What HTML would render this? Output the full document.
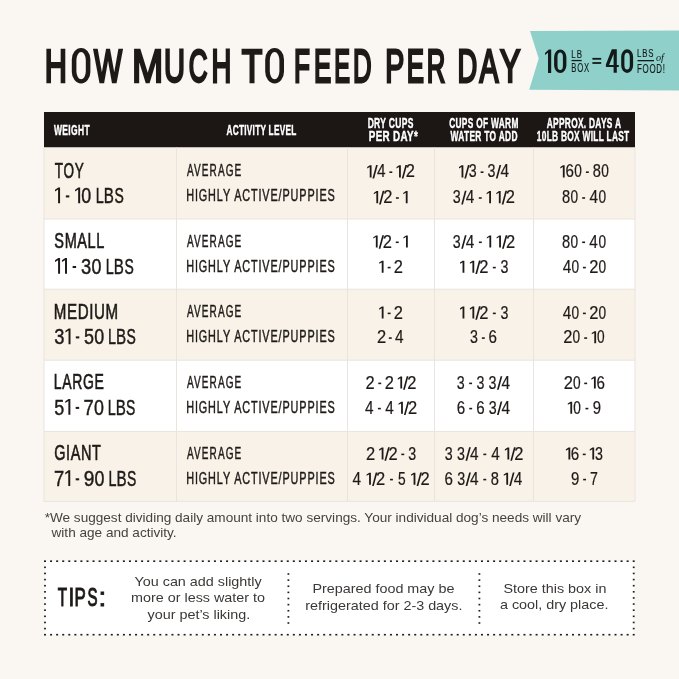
<!DOCTYPE html>
<html><head><meta charset="utf-8"><style>
html,body{margin:0;padding:0;background:#faf7f2;width:679px;height:679px;overflow:hidden}
svg{display:block;will-change:transform}
</style></head><body>
<svg width="679" height="679" viewBox="0 0 679 679">
<rect width="679" height="679" fill="#faf7f2"/>
<polygon points="530,31 679,30.6 679,90.4 529.2,89.8 538.7,58.4" fill="#8fd0cb"/>
<rect x="571.50" y="59.90" width="10.20" height="1.30" fill="#121a1a" />
<rect x="592.40" y="57.90" width="8.80" height="1.80" fill="#121a1a" />
<rect x="592.40" y="62.10" width="8.80" height="1.80" fill="#121a1a" />
<rect x="637.50" y="60.00" width="16.50" height="1.30" fill="#121a1a" />
<rect x="44.00" y="112.00" width="591.00" height="35.50" fill="#1c1615" />
<rect x="44.00" y="147.50" width="591.00" height="71.50" fill="#f8f2e8" />
<rect x="44.00" y="219.00" width="591.00" height="70.20" fill="#ffffff" />
<rect x="44.00" y="289.20" width="591.00" height="71.00" fill="#f8f2e8" />
<rect x="44.00" y="360.20" width="591.00" height="71.20" fill="#ffffff" />
<rect x="44.00" y="431.40" width="591.00" height="69.90" fill="#f8f2e8" />
<rect x="44.00" y="218.50" width="591.00" height="1.00" fill="#e9e4dd" />
<rect x="44.00" y="288.70" width="591.00" height="1.00" fill="#e9e4dd" />
<rect x="44.00" y="359.70" width="591.00" height="1.00" fill="#e9e4dd" />
<rect x="44.00" y="430.90" width="591.00" height="1.00" fill="#e9e4dd" />
<rect x="44.00" y="500.80" width="591.00" height="1.00" fill="#e9e4dd" />
<rect x="176.00" y="147.50" width="1.00" height="353.80" fill="#e9e4dd" />
<rect x="347.00" y="147.50" width="1.00" height="353.80" fill="#e9e4dd" />
<rect x="434.00" y="147.50" width="1.00" height="353.80" fill="#e9e4dd" />
<rect x="533.00" y="147.50" width="1.00" height="353.80" fill="#e9e4dd" />
<rect x="43.50" y="147.50" width="1.00" height="353.80" fill="#e9e4dd" />
<rect x="634.50" y="147.50" width="1.00" height="353.80" fill="#e9e4dd" />
<rect x="45.00" y="561.00" width="589.00" height="74.00" fill="#ffffff" />
<rect x="44.00" y="560.40" width="2.00" height="1.60" fill="#1f1c1a" />
<rect x="44.00" y="633.90" width="2.00" height="1.60" fill="#1f1c1a" />
<rect x="50.07" y="560.40" width="2.00" height="1.60" fill="#1f1c1a" />
<rect x="50.07" y="633.90" width="2.00" height="1.60" fill="#1f1c1a" />
<rect x="56.14" y="560.40" width="2.00" height="1.60" fill="#1f1c1a" />
<rect x="56.14" y="633.90" width="2.00" height="1.60" fill="#1f1c1a" />
<rect x="62.21" y="560.40" width="2.00" height="1.60" fill="#1f1c1a" />
<rect x="62.21" y="633.90" width="2.00" height="1.60" fill="#1f1c1a" />
<rect x="68.28" y="560.40" width="2.00" height="1.60" fill="#1f1c1a" />
<rect x="68.28" y="633.90" width="2.00" height="1.60" fill="#1f1c1a" />
<rect x="74.35" y="560.40" width="2.00" height="1.60" fill="#1f1c1a" />
<rect x="74.35" y="633.90" width="2.00" height="1.60" fill="#1f1c1a" />
<rect x="80.41" y="560.40" width="2.00" height="1.60" fill="#1f1c1a" />
<rect x="80.41" y="633.90" width="2.00" height="1.60" fill="#1f1c1a" />
<rect x="86.48" y="560.40" width="2.00" height="1.60" fill="#1f1c1a" />
<rect x="86.48" y="633.90" width="2.00" height="1.60" fill="#1f1c1a" />
<rect x="92.55" y="560.40" width="2.00" height="1.60" fill="#1f1c1a" />
<rect x="92.55" y="633.90" width="2.00" height="1.60" fill="#1f1c1a" />
<rect x="98.62" y="560.40" width="2.00" height="1.60" fill="#1f1c1a" />
<rect x="98.62" y="633.90" width="2.00" height="1.60" fill="#1f1c1a" />
<rect x="104.69" y="560.40" width="2.00" height="1.60" fill="#1f1c1a" />
<rect x="104.69" y="633.90" width="2.00" height="1.60" fill="#1f1c1a" />
<rect x="110.76" y="560.40" width="2.00" height="1.60" fill="#1f1c1a" />
<rect x="110.76" y="633.90" width="2.00" height="1.60" fill="#1f1c1a" />
<rect x="116.83" y="560.40" width="2.00" height="1.60" fill="#1f1c1a" />
<rect x="116.83" y="633.90" width="2.00" height="1.60" fill="#1f1c1a" />
<rect x="122.90" y="560.40" width="2.00" height="1.60" fill="#1f1c1a" />
<rect x="122.90" y="633.90" width="2.00" height="1.60" fill="#1f1c1a" />
<rect x="128.97" y="560.40" width="2.00" height="1.60" fill="#1f1c1a" />
<rect x="128.97" y="633.90" width="2.00" height="1.60" fill="#1f1c1a" />
<rect x="135.04" y="560.40" width="2.00" height="1.60" fill="#1f1c1a" />
<rect x="135.04" y="633.90" width="2.00" height="1.60" fill="#1f1c1a" />
<rect x="141.11" y="560.40" width="2.00" height="1.60" fill="#1f1c1a" />
<rect x="141.11" y="633.90" width="2.00" height="1.60" fill="#1f1c1a" />
<rect x="147.17" y="560.40" width="2.00" height="1.60" fill="#1f1c1a" />
<rect x="147.17" y="633.90" width="2.00" height="1.60" fill="#1f1c1a" />
<rect x="153.24" y="560.40" width="2.00" height="1.60" fill="#1f1c1a" />
<rect x="153.24" y="633.90" width="2.00" height="1.60" fill="#1f1c1a" />
<rect x="159.31" y="560.40" width="2.00" height="1.60" fill="#1f1c1a" />
<rect x="159.31" y="633.90" width="2.00" height="1.60" fill="#1f1c1a" />
<rect x="165.38" y="560.40" width="2.00" height="1.60" fill="#1f1c1a" />
<rect x="165.38" y="633.90" width="2.00" height="1.60" fill="#1f1c1a" />
<rect x="171.45" y="560.40" width="2.00" height="1.60" fill="#1f1c1a" />
<rect x="171.45" y="633.90" width="2.00" height="1.60" fill="#1f1c1a" />
<rect x="177.52" y="560.40" width="2.00" height="1.60" fill="#1f1c1a" />
<rect x="177.52" y="633.90" width="2.00" height="1.60" fill="#1f1c1a" />
<rect x="183.59" y="560.40" width="2.00" height="1.60" fill="#1f1c1a" />
<rect x="183.59" y="633.90" width="2.00" height="1.60" fill="#1f1c1a" />
<rect x="189.66" y="560.40" width="2.00" height="1.60" fill="#1f1c1a" />
<rect x="189.66" y="633.90" width="2.00" height="1.60" fill="#1f1c1a" />
<rect x="195.73" y="560.40" width="2.00" height="1.60" fill="#1f1c1a" />
<rect x="195.73" y="633.90" width="2.00" height="1.60" fill="#1f1c1a" />
<rect x="201.80" y="560.40" width="2.00" height="1.60" fill="#1f1c1a" />
<rect x="201.80" y="633.90" width="2.00" height="1.60" fill="#1f1c1a" />
<rect x="207.86" y="560.40" width="2.00" height="1.60" fill="#1f1c1a" />
<rect x="207.86" y="633.90" width="2.00" height="1.60" fill="#1f1c1a" />
<rect x="213.93" y="560.40" width="2.00" height="1.60" fill="#1f1c1a" />
<rect x="213.93" y="633.90" width="2.00" height="1.60" fill="#1f1c1a" />
<rect x="220.00" y="560.40" width="2.00" height="1.60" fill="#1f1c1a" />
<rect x="220.00" y="633.90" width="2.00" height="1.60" fill="#1f1c1a" />
<rect x="226.07" y="560.40" width="2.00" height="1.60" fill="#1f1c1a" />
<rect x="226.07" y="633.90" width="2.00" height="1.60" fill="#1f1c1a" />
<rect x="232.14" y="560.40" width="2.00" height="1.60" fill="#1f1c1a" />
<rect x="232.14" y="633.90" width="2.00" height="1.60" fill="#1f1c1a" />
<rect x="238.21" y="560.40" width="2.00" height="1.60" fill="#1f1c1a" />
<rect x="238.21" y="633.90" width="2.00" height="1.60" fill="#1f1c1a" />
<rect x="244.28" y="560.40" width="2.00" height="1.60" fill="#1f1c1a" />
<rect x="244.28" y="633.90" width="2.00" height="1.60" fill="#1f1c1a" />
<rect x="250.35" y="560.40" width="2.00" height="1.60" fill="#1f1c1a" />
<rect x="250.35" y="633.90" width="2.00" height="1.60" fill="#1f1c1a" />
<rect x="256.42" y="560.40" width="2.00" height="1.60" fill="#1f1c1a" />
<rect x="256.42" y="633.90" width="2.00" height="1.60" fill="#1f1c1a" />
<rect x="262.49" y="560.40" width="2.00" height="1.60" fill="#1f1c1a" />
<rect x="262.49" y="633.90" width="2.00" height="1.60" fill="#1f1c1a" />
<rect x="268.56" y="560.40" width="2.00" height="1.60" fill="#1f1c1a" />
<rect x="268.56" y="633.90" width="2.00" height="1.60" fill="#1f1c1a" />
<rect x="274.62" y="560.40" width="2.00" height="1.60" fill="#1f1c1a" />
<rect x="274.62" y="633.90" width="2.00" height="1.60" fill="#1f1c1a" />
<rect x="280.69" y="560.40" width="2.00" height="1.60" fill="#1f1c1a" />
<rect x="280.69" y="633.90" width="2.00" height="1.60" fill="#1f1c1a" />
<rect x="286.76" y="560.40" width="2.00" height="1.60" fill="#1f1c1a" />
<rect x="286.76" y="633.90" width="2.00" height="1.60" fill="#1f1c1a" />
<rect x="292.83" y="560.40" width="2.00" height="1.60" fill="#1f1c1a" />
<rect x="292.83" y="633.90" width="2.00" height="1.60" fill="#1f1c1a" />
<rect x="298.90" y="560.40" width="2.00" height="1.60" fill="#1f1c1a" />
<rect x="298.90" y="633.90" width="2.00" height="1.60" fill="#1f1c1a" />
<rect x="304.97" y="560.40" width="2.00" height="1.60" fill="#1f1c1a" />
<rect x="304.97" y="633.90" width="2.00" height="1.60" fill="#1f1c1a" />
<rect x="311.04" y="560.40" width="2.00" height="1.60" fill="#1f1c1a" />
<rect x="311.04" y="633.90" width="2.00" height="1.60" fill="#1f1c1a" />
<rect x="317.11" y="560.40" width="2.00" height="1.60" fill="#1f1c1a" />
<rect x="317.11" y="633.90" width="2.00" height="1.60" fill="#1f1c1a" />
<rect x="323.18" y="560.40" width="2.00" height="1.60" fill="#1f1c1a" />
<rect x="323.18" y="633.90" width="2.00" height="1.60" fill="#1f1c1a" />
<rect x="329.25" y="560.40" width="2.00" height="1.60" fill="#1f1c1a" />
<rect x="329.25" y="633.90" width="2.00" height="1.60" fill="#1f1c1a" />
<rect x="335.32" y="560.40" width="2.00" height="1.60" fill="#1f1c1a" />
<rect x="335.32" y="633.90" width="2.00" height="1.60" fill="#1f1c1a" />
<rect x="341.38" y="560.40" width="2.00" height="1.60" fill="#1f1c1a" />
<rect x="341.38" y="633.90" width="2.00" height="1.60" fill="#1f1c1a" />
<rect x="347.45" y="560.40" width="2.00" height="1.60" fill="#1f1c1a" />
<rect x="347.45" y="633.90" width="2.00" height="1.60" fill="#1f1c1a" />
<rect x="353.52" y="560.40" width="2.00" height="1.60" fill="#1f1c1a" />
<rect x="353.52" y="633.90" width="2.00" height="1.60" fill="#1f1c1a" />
<rect x="359.59" y="560.40" width="2.00" height="1.60" fill="#1f1c1a" />
<rect x="359.59" y="633.90" width="2.00" height="1.60" fill="#1f1c1a" />
<rect x="365.66" y="560.40" width="2.00" height="1.60" fill="#1f1c1a" />
<rect x="365.66" y="633.90" width="2.00" height="1.60" fill="#1f1c1a" />
<rect x="371.73" y="560.40" width="2.00" height="1.60" fill="#1f1c1a" />
<rect x="371.73" y="633.90" width="2.00" height="1.60" fill="#1f1c1a" />
<rect x="377.80" y="560.40" width="2.00" height="1.60" fill="#1f1c1a" />
<rect x="377.80" y="633.90" width="2.00" height="1.60" fill="#1f1c1a" />
<rect x="383.87" y="560.40" width="2.00" height="1.60" fill="#1f1c1a" />
<rect x="383.87" y="633.90" width="2.00" height="1.60" fill="#1f1c1a" />
<rect x="389.94" y="560.40" width="2.00" height="1.60" fill="#1f1c1a" />
<rect x="389.94" y="633.90" width="2.00" height="1.60" fill="#1f1c1a" />
<rect x="396.01" y="560.40" width="2.00" height="1.60" fill="#1f1c1a" />
<rect x="396.01" y="633.90" width="2.00" height="1.60" fill="#1f1c1a" />
<rect x="402.08" y="560.40" width="2.00" height="1.60" fill="#1f1c1a" />
<rect x="402.08" y="633.90" width="2.00" height="1.60" fill="#1f1c1a" />
<rect x="408.14" y="560.40" width="2.00" height="1.60" fill="#1f1c1a" />
<rect x="408.14" y="633.90" width="2.00" height="1.60" fill="#1f1c1a" />
<rect x="414.21" y="560.40" width="2.00" height="1.60" fill="#1f1c1a" />
<rect x="414.21" y="633.90" width="2.00" height="1.60" fill="#1f1c1a" />
<rect x="420.28" y="560.40" width="2.00" height="1.60" fill="#1f1c1a" />
<rect x="420.28" y="633.90" width="2.00" height="1.60" fill="#1f1c1a" />
<rect x="426.35" y="560.40" width="2.00" height="1.60" fill="#1f1c1a" />
<rect x="426.35" y="633.90" width="2.00" height="1.60" fill="#1f1c1a" />
<rect x="432.42" y="560.40" width="2.00" height="1.60" fill="#1f1c1a" />
<rect x="432.42" y="633.90" width="2.00" height="1.60" fill="#1f1c1a" />
<rect x="438.49" y="560.40" width="2.00" height="1.60" fill="#1f1c1a" />
<rect x="438.49" y="633.90" width="2.00" height="1.60" fill="#1f1c1a" />
<rect x="444.56" y="560.40" width="2.00" height="1.60" fill="#1f1c1a" />
<rect x="444.56" y="633.90" width="2.00" height="1.60" fill="#1f1c1a" />
<rect x="450.63" y="560.40" width="2.00" height="1.60" fill="#1f1c1a" />
<rect x="450.63" y="633.90" width="2.00" height="1.60" fill="#1f1c1a" />
<rect x="456.70" y="560.40" width="2.00" height="1.60" fill="#1f1c1a" />
<rect x="456.70" y="633.90" width="2.00" height="1.60" fill="#1f1c1a" />
<rect x="462.77" y="560.40" width="2.00" height="1.60" fill="#1f1c1a" />
<rect x="462.77" y="633.90" width="2.00" height="1.60" fill="#1f1c1a" />
<rect x="468.84" y="560.40" width="2.00" height="1.60" fill="#1f1c1a" />
<rect x="468.84" y="633.90" width="2.00" height="1.60" fill="#1f1c1a" />
<rect x="474.90" y="560.40" width="2.00" height="1.60" fill="#1f1c1a" />
<rect x="474.90" y="633.90" width="2.00" height="1.60" fill="#1f1c1a" />
<rect x="480.97" y="560.40" width="2.00" height="1.60" fill="#1f1c1a" />
<rect x="480.97" y="633.90" width="2.00" height="1.60" fill="#1f1c1a" />
<rect x="487.04" y="560.40" width="2.00" height="1.60" fill="#1f1c1a" />
<rect x="487.04" y="633.90" width="2.00" height="1.60" fill="#1f1c1a" />
<rect x="493.11" y="560.40" width="2.00" height="1.60" fill="#1f1c1a" />
<rect x="493.11" y="633.90" width="2.00" height="1.60" fill="#1f1c1a" />
<rect x="499.18" y="560.40" width="2.00" height="1.60" fill="#1f1c1a" />
<rect x="499.18" y="633.90" width="2.00" height="1.60" fill="#1f1c1a" />
<rect x="505.25" y="560.40" width="2.00" height="1.60" fill="#1f1c1a" />
<rect x="505.25" y="633.90" width="2.00" height="1.60" fill="#1f1c1a" />
<rect x="511.32" y="560.40" width="2.00" height="1.60" fill="#1f1c1a" />
<rect x="511.32" y="633.90" width="2.00" height="1.60" fill="#1f1c1a" />
<rect x="517.39" y="560.40" width="2.00" height="1.60" fill="#1f1c1a" />
<rect x="517.39" y="633.90" width="2.00" height="1.60" fill="#1f1c1a" />
<rect x="523.46" y="560.40" width="2.00" height="1.60" fill="#1f1c1a" />
<rect x="523.46" y="633.90" width="2.00" height="1.60" fill="#1f1c1a" />
<rect x="529.53" y="560.40" width="2.00" height="1.60" fill="#1f1c1a" />
<rect x="529.53" y="633.90" width="2.00" height="1.60" fill="#1f1c1a" />
<rect x="535.59" y="560.40" width="2.00" height="1.60" fill="#1f1c1a" />
<rect x="535.59" y="633.90" width="2.00" height="1.60" fill="#1f1c1a" />
<rect x="541.66" y="560.40" width="2.00" height="1.60" fill="#1f1c1a" />
<rect x="541.66" y="633.90" width="2.00" height="1.60" fill="#1f1c1a" />
<rect x="547.73" y="560.40" width="2.00" height="1.60" fill="#1f1c1a" />
<rect x="547.73" y="633.90" width="2.00" height="1.60" fill="#1f1c1a" />
<rect x="553.80" y="560.40" width="2.00" height="1.60" fill="#1f1c1a" />
<rect x="553.80" y="633.90" width="2.00" height="1.60" fill="#1f1c1a" />
<rect x="559.87" y="560.40" width="2.00" height="1.60" fill="#1f1c1a" />
<rect x="559.87" y="633.90" width="2.00" height="1.60" fill="#1f1c1a" />
<rect x="565.94" y="560.40" width="2.00" height="1.60" fill="#1f1c1a" />
<rect x="565.94" y="633.90" width="2.00" height="1.60" fill="#1f1c1a" />
<rect x="572.01" y="560.40" width="2.00" height="1.60" fill="#1f1c1a" />
<rect x="572.01" y="633.90" width="2.00" height="1.60" fill="#1f1c1a" />
<rect x="578.08" y="560.40" width="2.00" height="1.60" fill="#1f1c1a" />
<rect x="578.08" y="633.90" width="2.00" height="1.60" fill="#1f1c1a" />
<rect x="584.15" y="560.40" width="2.00" height="1.60" fill="#1f1c1a" />
<rect x="584.15" y="633.90" width="2.00" height="1.60" fill="#1f1c1a" />
<rect x="590.22" y="560.40" width="2.00" height="1.60" fill="#1f1c1a" />
<rect x="590.22" y="633.90" width="2.00" height="1.60" fill="#1f1c1a" />
<rect x="596.29" y="560.40" width="2.00" height="1.60" fill="#1f1c1a" />
<rect x="596.29" y="633.90" width="2.00" height="1.60" fill="#1f1c1a" />
<rect x="602.35" y="560.40" width="2.00" height="1.60" fill="#1f1c1a" />
<rect x="602.35" y="633.90" width="2.00" height="1.60" fill="#1f1c1a" />
<rect x="608.42" y="560.40" width="2.00" height="1.60" fill="#1f1c1a" />
<rect x="608.42" y="633.90" width="2.00" height="1.60" fill="#1f1c1a" />
<rect x="614.49" y="560.40" width="2.00" height="1.60" fill="#1f1c1a" />
<rect x="614.49" y="633.90" width="2.00" height="1.60" fill="#1f1c1a" />
<rect x="620.56" y="560.40" width="2.00" height="1.60" fill="#1f1c1a" />
<rect x="620.56" y="633.90" width="2.00" height="1.60" fill="#1f1c1a" />
<rect x="626.63" y="560.40" width="2.00" height="1.60" fill="#1f1c1a" />
<rect x="626.63" y="633.90" width="2.00" height="1.60" fill="#1f1c1a" />
<rect x="632.70" y="560.40" width="2.00" height="1.60" fill="#1f1c1a" />
<rect x="632.70" y="633.90" width="2.00" height="1.60" fill="#1f1c1a" />
<rect x="44.10" y="566.53" width="1.80" height="1.60" fill="#1f1c1a" />
<rect x="632.80" y="566.53" width="1.80" height="1.60" fill="#1f1c1a" />
<rect x="44.10" y="572.65" width="1.80" height="1.60" fill="#1f1c1a" />
<rect x="632.80" y="572.65" width="1.80" height="1.60" fill="#1f1c1a" />
<rect x="44.10" y="578.78" width="1.80" height="1.60" fill="#1f1c1a" />
<rect x="632.80" y="578.78" width="1.80" height="1.60" fill="#1f1c1a" />
<rect x="44.10" y="584.90" width="1.80" height="1.60" fill="#1f1c1a" />
<rect x="632.80" y="584.90" width="1.80" height="1.60" fill="#1f1c1a" />
<rect x="44.10" y="591.03" width="1.80" height="1.60" fill="#1f1c1a" />
<rect x="632.80" y="591.03" width="1.80" height="1.60" fill="#1f1c1a" />
<rect x="44.10" y="597.15" width="1.80" height="1.60" fill="#1f1c1a" />
<rect x="632.80" y="597.15" width="1.80" height="1.60" fill="#1f1c1a" />
<rect x="44.10" y="603.28" width="1.80" height="1.60" fill="#1f1c1a" />
<rect x="632.80" y="603.28" width="1.80" height="1.60" fill="#1f1c1a" />
<rect x="44.10" y="609.40" width="1.80" height="1.60" fill="#1f1c1a" />
<rect x="632.80" y="609.40" width="1.80" height="1.60" fill="#1f1c1a" />
<rect x="44.10" y="615.53" width="1.80" height="1.60" fill="#1f1c1a" />
<rect x="632.80" y="615.53" width="1.80" height="1.60" fill="#1f1c1a" />
<rect x="44.10" y="621.65" width="1.80" height="1.60" fill="#1f1c1a" />
<rect x="632.80" y="621.65" width="1.80" height="1.60" fill="#1f1c1a" />
<rect x="44.10" y="627.78" width="1.80" height="1.60" fill="#1f1c1a" />
<rect x="632.80" y="627.78" width="1.80" height="1.60" fill="#1f1c1a" />
<rect x="287.50" y="573.20" width="1.80" height="1.60" fill="#1f1c1a" />
<rect x="287.50" y="579.33" width="1.80" height="1.60" fill="#1f1c1a" />
<rect x="287.50" y="585.45" width="1.80" height="1.60" fill="#1f1c1a" />
<rect x="287.50" y="591.58" width="1.80" height="1.60" fill="#1f1c1a" />
<rect x="287.50" y="597.70" width="1.80" height="1.60" fill="#1f1c1a" />
<rect x="287.50" y="603.83" width="1.80" height="1.60" fill="#1f1c1a" />
<rect x="287.50" y="609.95" width="1.80" height="1.60" fill="#1f1c1a" />
<rect x="287.50" y="616.08" width="1.80" height="1.60" fill="#1f1c1a" />
<rect x="287.50" y="622.20" width="1.80" height="1.60" fill="#1f1c1a" />
<rect x="478.50" y="573.20" width="1.80" height="1.60" fill="#1f1c1a" />
<rect x="478.50" y="579.33" width="1.80" height="1.60" fill="#1f1c1a" />
<rect x="478.50" y="585.45" width="1.80" height="1.60" fill="#1f1c1a" />
<rect x="478.50" y="591.58" width="1.80" height="1.60" fill="#1f1c1a" />
<rect x="478.50" y="597.70" width="1.80" height="1.60" fill="#1f1c1a" />
<rect x="478.50" y="603.83" width="1.80" height="1.60" fill="#1f1c1a" />
<rect x="478.50" y="609.95" width="1.80" height="1.60" fill="#1f1c1a" />
<rect x="478.50" y="616.08" width="1.80" height="1.60" fill="#1f1c1a" />
<rect x="478.50" y="622.20" width="1.80" height="1.60" fill="#1f1c1a" />
<path d="M545,53.1 L548.8,49.6 L551.2,49.6 L551.2,72.9 L548,72.9 L548,52.8 L545,54.9 Z M560.25,49.60 A6.15,7.63 0 0 1 566.40,57.23 L566.40,65.27 A6.15,7.63 0 0 1 560.25,72.90 A6.15,7.63 0 0 1 554.10,65.27 L554.10,57.23 A6.15,7.63 0 0 1 560.25,49.60 Z M560.20,52.40 A2.70,4.59 0 0 0 557.50,56.99 L557.50,65.51 A2.70,4.59 0 0 0 560.20,70.10 A2.70,4.59 0 0 0 562.90,65.51 L562.90,56.99 A2.70,4.59 0 0 0 560.20,52.40 Z" fill="#121a1a" fill-rule="evenodd"/>
<path d="M611.8,49.3 L616.8,49.3 L616.8,64.9 L618.8,64.9 L618.8,67.1 L616.8,67.1 L616.8,72.8 L613.6,72.8 L613.6,67.1 L605.9,67.1 L605.9,64.5 Z M609.1,64.9 L613.6,64.9 L613.6,54.0 Z M627.15,49.30 A5.95,7.38 0 0 1 633.10,56.68 L633.10,65.52 A5.95,7.38 0 0 1 627.15,72.90 A5.95,7.38 0 0 1 621.20,65.52 L621.20,56.68 A5.95,7.38 0 0 1 627.15,49.30 Z M627.10,52.70 A2.70,4.59 0 0 0 624.40,57.29 L624.40,64.91 A2.70,4.59 0 0 0 627.10,69.50 A2.70,4.59 0 0 0 629.80,64.91 L629.80,57.29 A2.70,4.59 0 0 0 627.10,52.70 Z" fill="#121a1a" fill-rule="evenodd"/>
<path d="M81.10,47.90 A9.30,11.53 0 0 1 90.40,59.43 L90.40,71.97 A9.30,11.53 0 0 1 81.10,83.50 A9.30,11.53 0 0 1 71.80,71.97 L71.80,59.43 A9.30,11.53 0 0 1 81.10,47.90 Z M81.10,52.10 A4.70,7.99 0 0 0 76.40,60.09 L76.40,71.31 A4.70,7.99 0 0 0 81.10,79.30 A4.70,7.99 0 0 0 85.80,71.31 L85.80,60.09 A4.70,7.99 0 0 0 81.10,52.10 Z" fill="#1e1a18" fill-rule="evenodd"/>
<path d="M274.60,47.90 A9.40,11.66 0 0 1 284.00,59.56 L284.00,71.84 A9.40,11.66 0 0 1 274.60,83.50 A9.40,11.66 0 0 1 265.20,71.84 L265.20,59.56 A9.40,11.66 0 0 1 274.60,47.90 Z M274.60,52.10 A4.80,8.16 0 0 0 269.80,60.26 L269.80,71.14 A4.80,8.16 0 0 0 274.60,79.30 A4.80,8.16 0 0 0 279.40,71.14 L279.40,60.26 A4.80,8.16 0 0 0 274.60,52.10 Z" fill="#1e1a18" fill-rule="evenodd"/>
<text vector-effect="non-scaling-stroke" transform="matrix(0.6574 0 0 1 44.82 81.75)" font-family="Liberation Sans" font-weight="normal" font-size="46.66" fill="#1e1a18" stroke="#1e1a18" stroke-width="2.30">H</text>
<text vector-effect="non-scaling-stroke" transform="matrix(0.6373 0 0 1 94.00 81.75)" font-family="Liberation Sans" font-weight="normal" font-size="46.66" fill="#1e1a18" stroke="#1e1a18" stroke-width="2.30">W</text>
<text vector-effect="non-scaling-stroke" transform="matrix(0.8027 0 0 1 132.06 81.75)" font-family="Liberation Sans" font-weight="normal" font-size="46.66" fill="#1e1a18" stroke="#1e1a18" stroke-width="2.30">M</text>
<text vector-effect="non-scaling-stroke" transform="matrix(0.6232 0 0 1 163.90 81.75)" font-family="Liberation Sans" font-weight="normal" font-size="46.66" fill="#1e1a18" stroke="#1e1a18" stroke-width="2.30">U</text>
<text vector-effect="non-scaling-stroke" transform="matrix(0.5569 0 0 1 188.65 81.75)" font-family="Liberation Sans" font-weight="normal" font-size="46.66" fill="#1e1a18" stroke="#1e1a18" stroke-width="2.30">C</text>
<text vector-effect="non-scaling-stroke" transform="matrix(0.5882 0 0 1 211.49 81.75)" font-family="Liberation Sans" font-weight="normal" font-size="46.66" fill="#1e1a18" stroke="#1e1a18" stroke-width="2.30">H</text>
<text vector-effect="non-scaling-stroke" transform="matrix(0.7208 0 0 1 241.79 81.75)" font-family="Liberation Sans" font-weight="normal" font-size="46.66" fill="#1e1a18" stroke="#1e1a18" stroke-width="2.30">T</text>
<text vector-effect="non-scaling-stroke" transform="matrix(0.5584 0 0 1 294.00 81.75)" font-family="Liberation Sans" font-weight="normal" font-size="46.66" fill="#1e1a18" stroke="#1e1a18" stroke-width="2.30">F</text>
<text vector-effect="non-scaling-stroke" transform="matrix(0.5531 0 0 1 314.02 81.75)" font-family="Liberation Sans" font-weight="normal" font-size="46.66" fill="#1e1a18" stroke="#1e1a18" stroke-width="2.30">E</text>
<text vector-effect="non-scaling-stroke" transform="matrix(0.5057 0 0 1 334.20 81.75)" font-family="Liberation Sans" font-weight="normal" font-size="46.66" fill="#1e1a18" stroke="#1e1a18" stroke-width="2.30">E</text>
<text vector-effect="non-scaling-stroke" transform="matrix(0.5498 0 0 1 352.93 81.75)" font-family="Liberation Sans" font-weight="normal" font-size="46.66" fill="#1e1a18" stroke="#1e1a18" stroke-width="2.30">D</text>
<text vector-effect="non-scaling-stroke" transform="matrix(0.6118 0 0 1 385.20 81.75)" font-family="Liberation Sans" font-weight="normal" font-size="46.66" fill="#1e1a18" stroke="#1e1a18" stroke-width="2.30">P</text>
<text vector-effect="non-scaling-stroke" transform="matrix(0.5531 0 0 1 406.72 81.75)" font-family="Liberation Sans" font-weight="normal" font-size="46.66" fill="#1e1a18" stroke="#1e1a18" stroke-width="2.30">E</text>
<text vector-effect="non-scaling-stroke" transform="matrix(0.5498 0 0 1 426.73 81.75)" font-family="Liberation Sans" font-weight="normal" font-size="46.66" fill="#1e1a18" stroke="#1e1a18" stroke-width="2.30">R</text>
<text vector-effect="non-scaling-stroke" transform="matrix(0.5860 0 0 1 457.49 81.75)" font-family="Liberation Sans" font-weight="normal" font-size="46.66" fill="#1e1a18" stroke="#1e1a18" stroke-width="2.30">D</text>
<text vector-effect="non-scaling-stroke" transform="matrix(0.6114 0 0 1 479.48 81.75)" font-family="Liberation Sans" font-weight="normal" font-size="46.66" fill="#1e1a18" stroke="#1e1a18" stroke-width="2.30">A</text>
<text vector-effect="non-scaling-stroke" transform="matrix(0.6542 0 0 1 500.06 81.75)" font-family="Liberation Sans" font-weight="normal" font-size="46.66" fill="#1e1a18" stroke="#1e1a18" stroke-width="2.30">Y</text>
<text vector-effect="non-scaling-stroke" transform="matrix(0.7618 0 0 1 571.35 57.70)" font-family="Liberation Sans" font-weight="normal" font-style="normal" font-size="10.32" letter-spacing="1.247" fill="#121a1a" stroke="#121a1a" stroke-width="0.12">LB</text>
<text vector-effect="non-scaling-stroke" transform="matrix(0.6392 0 0 1 571.16 72.20)" font-family="Liberation Sans" font-weight="normal" font-style="normal" font-size="12.06" letter-spacing="1.345" fill="#121a1a" stroke="#121a1a" stroke-width="0.12">BOX</text>
<text vector-effect="non-scaling-stroke" transform="matrix(0.7264 0 0 1 637.06 57.40)" font-family="Liberation Sans" font-weight="normal" font-style="normal" font-size="10.76" letter-spacing="1.053" fill="#121a1a" stroke="#121a1a" stroke-width="0.12">LBS</text>
<text vector-effect="non-scaling-stroke" transform="matrix(1.0740 0 0 1 655.89 61.00)" font-family="Liberation Serif" font-weight="normal" font-style="italic" font-size="9.50" fill="#121a1a" >of</text>
<text vector-effect="non-scaling-stroke" transform="matrix(0.6021 0 0 1 637.04 72.70)" font-family="Liberation Sans" font-weight="normal" font-style="normal" font-size="13.23" letter-spacing="1.100" fill="#121a1a" stroke="#121a1a" stroke-width="0.12">FOOD!</text>
<text vector-effect="non-scaling-stroke" transform="matrix(0.6075 0 0 1 54.00 135.00)" font-family="Liberation Sans" font-weight="bold" font-style="normal" font-size="13.95" letter-spacing="0.586" fill="#ffffff" stroke="#ffffff" stroke-width="0.35">WEIGHT</text>
<text vector-effect="non-scaling-stroke" transform="matrix(0.5919 0 0 1 226.49 134.90)" font-family="Liberation Sans" font-weight="bold" font-style="normal" font-size="13.95" letter-spacing="0.451" fill="#ffffff" stroke="#ffffff" stroke-width="0.35">ACTIVITY LEVEL</text>
<text vector-effect="non-scaling-stroke" transform="matrix(0.6094 0 0 1 367.63 127.90)" font-family="Liberation Sans" font-weight="bold" font-style="normal" font-size="13.95" letter-spacing="0.525" fill="#ffffff" stroke="#ffffff" stroke-width="0.35">DRY CUPS</text>
<text vector-effect="non-scaling-stroke" transform="matrix(0.7052 0 0 1 368.74 141.20)" font-family="Liberation Sans" font-weight="bold" font-style="normal" font-size="13.95" letter-spacing="0.490" fill="#ffffff" stroke="#ffffff" stroke-width="0.35">PER DAY*</text>
<text vector-effect="non-scaling-stroke" transform="matrix(0.5984 0 0 1 449.17 128.10)" font-family="Liberation Sans" font-weight="bold" font-style="normal" font-size="13.95" letter-spacing="0.520" fill="#ffffff" stroke="#ffffff" stroke-width="0.35">CUPS OF WARM</text>
<text vector-effect="non-scaling-stroke" transform="matrix(0.5997 0 0 1 450.60 141.20)" font-family="Liberation Sans" font-weight="bold" font-style="normal" font-size="13.95" letter-spacing="0.504" fill="#ffffff" stroke="#ffffff" stroke-width="0.35">WATER TO ADD</text>
<text vector-effect="non-scaling-stroke" transform="matrix(0.5999 0 0 1 546.79 127.90)" font-family="Liberation Sans" font-weight="bold" font-style="normal" font-size="13.95" letter-spacing="0.473" fill="#ffffff" stroke="#ffffff" stroke-width="0.35">APPROX. DAYS A</text>
<text vector-effect="non-scaling-stroke" transform="matrix(0.6010 0 0 1 536.78 141.20)" font-family="Liberation Sans" font-weight="bold" font-style="normal" font-size="13.95" letter-spacing="0.450" fill="#ffffff" stroke="#ffffff" stroke-width="0.35">10LB BOX WILL LAST</text>
<text vector-effect="non-scaling-stroke" transform="matrix(0.6010 0 0 1 54.70 177.70)" font-family="Liberation Sans" font-weight="normal" font-style="normal" font-size="22.53" letter-spacing="1.181" fill="#1e1a18" stroke="#1e1a18" stroke-width="0.55">TOY</text>
<path d="M55.00,189.77 L58.28,187.40 L60.06,187.40 L60.06,203.20 L58.08,203.20 L58.08,189.61 L55.00,191.51 Z" fill="#1e1a18"/>
<rect x="65.84" y="195.38" width="3.48" height="2.05" fill="#1e1a18"/>
<path d="M75.09,189.77 L78.37,187.40 L80.15,187.40 L80.15,203.20 L78.17,203.20 L78.17,189.61 L75.09,191.51 Z" fill="#1e1a18"/>
<text vector-effect="non-scaling-stroke" transform="matrix(0.7781 0 0 1 81.36 203.20)" font-family="Liberation Sans" font-size="22.97" fill="#1e1a18" stroke="#1e1a18" stroke-width="0.42">0</text>
<text vector-effect="non-scaling-stroke" transform="matrix(0.6255 0 0 1 95.63 203.20)" font-family="Liberation Sans" font-size="22.97" fill="#1e1a18" stroke="#1e1a18" stroke-width="0.42">L</text>
<text vector-effect="non-scaling-stroke" transform="matrix(0.6589 0 0 1 103.81 203.20)" font-family="Liberation Sans" font-size="22.97" fill="#1e1a18" stroke="#1e1a18" stroke-width="0.42">B</text>
<text vector-effect="non-scaling-stroke" transform="matrix(0.6076 0 0 1 114.41 203.20)" font-family="Liberation Sans" font-size="22.97" fill="#1e1a18" stroke="#1e1a18" stroke-width="0.42">S</text>
<text vector-effect="non-scaling-stroke" transform="matrix(0.6444 0 0 1 54.35 248.30)" font-family="Liberation Sans" font-weight="normal" font-style="normal" font-size="22.53" letter-spacing="0.949" fill="#1e1a18" stroke="#1e1a18" stroke-width="0.55">SMALL</text>
<path d="M55.00,260.37 L58.28,258.00 L60.06,258.00 L60.06,273.80 L58.08,273.80 L58.08,260.21 L55.00,262.11 Z" fill="#1e1a18"/>
<path d="M61.94,260.37 L65.21,258.00 L66.99,258.00 L66.99,273.80 L65.02,273.80 L65.02,260.21 L61.94,262.11 Z" fill="#1e1a18"/>
<rect x="72.63" y="265.98" width="3.48" height="2.05" fill="#1e1a18"/>
<text vector-effect="non-scaling-stroke" transform="matrix(0.7966 0 0 1 81.06 273.80)" font-family="Liberation Sans" font-size="22.97" fill="#1e1a18" stroke="#1e1a18" stroke-width="0.42">3</text>
<text vector-effect="non-scaling-stroke" transform="matrix(0.7781 0 0 1 91.61 273.80)" font-family="Liberation Sans" font-size="22.97" fill="#1e1a18" stroke="#1e1a18" stroke-width="0.42">0</text>
<text vector-effect="non-scaling-stroke" transform="matrix(0.6255 0 0 1 105.72 273.80)" font-family="Liberation Sans" font-size="22.97" fill="#1e1a18" stroke="#1e1a18" stroke-width="0.42">L</text>
<text vector-effect="non-scaling-stroke" transform="matrix(0.6589 0 0 1 113.86 273.80)" font-family="Liberation Sans" font-size="22.97" fill="#1e1a18" stroke="#1e1a18" stroke-width="0.42">B</text>
<text vector-effect="non-scaling-stroke" transform="matrix(0.6076 0 0 1 124.41 273.80)" font-family="Liberation Sans" font-size="22.97" fill="#1e1a18" stroke="#1e1a18" stroke-width="0.42">S</text>
<text vector-effect="non-scaling-stroke" transform="matrix(0.6710 0 0 1 53.75 318.90)" font-family="Liberation Sans" font-weight="normal" font-style="normal" font-size="22.53" letter-spacing="0.923" fill="#1e1a18" stroke="#1e1a18" stroke-width="0.55">MEDIUM</text>
<text vector-effect="non-scaling-stroke" transform="matrix(0.7966 0 0 1 54.31 344.20)" font-family="Liberation Sans" font-size="22.97" fill="#1e1a18" stroke="#1e1a18" stroke-width="0.42">3</text>
<path d="M65.46,330.77 L68.74,328.40 L70.51,328.40 L70.51,344.20 L68.54,344.20 L68.54,330.61 L65.46,332.51 Z" fill="#1e1a18"/>
<rect x="75.82" y="336.38" width="3.48" height="2.05" fill="#1e1a18"/>
<text vector-effect="non-scaling-stroke" transform="matrix(0.7821 0 0 1 83.88 344.20)" font-family="Liberation Sans" font-size="22.97" fill="#1e1a18" stroke="#1e1a18" stroke-width="0.42">5</text>
<text vector-effect="non-scaling-stroke" transform="matrix(0.7781 0 0 1 94.19 344.20)" font-family="Liberation Sans" font-size="22.97" fill="#1e1a18" stroke="#1e1a18" stroke-width="0.42">0</text>
<text vector-effect="non-scaling-stroke" transform="matrix(0.6255 0 0 1 107.94 344.20)" font-family="Liberation Sans" font-size="22.97" fill="#1e1a18" stroke="#1e1a18" stroke-width="0.42">L</text>
<text vector-effect="non-scaling-stroke" transform="matrix(0.6589 0 0 1 115.97 344.20)" font-family="Liberation Sans" font-size="22.97" fill="#1e1a18" stroke="#1e1a18" stroke-width="0.42">B</text>
<text vector-effect="non-scaling-stroke" transform="matrix(0.6076 0 0 1 126.41 344.20)" font-family="Liberation Sans" font-size="22.97" fill="#1e1a18" stroke="#1e1a18" stroke-width="0.42">S</text>
<text vector-effect="non-scaling-stroke" transform="matrix(0.6225 0 0 1 53.84 389.30)" font-family="Liberation Sans" font-weight="normal" font-style="normal" font-size="22.53" letter-spacing="0.968" fill="#1e1a18" stroke="#1e1a18" stroke-width="0.55">LARGE</text>
<text vector-effect="non-scaling-stroke" transform="matrix(0.7821 0 0 1 54.28 414.70)" font-family="Liberation Sans" font-size="22.97" fill="#1e1a18" stroke="#1e1a18" stroke-width="0.42">5</text>
<path d="M65.30,401.27 L68.58,398.90 L70.36,398.90 L70.36,414.70 L68.38,414.70 L68.38,401.11 L65.30,403.01 Z" fill="#1e1a18"/>
<rect x="75.67" y="406.88" width="3.48" height="2.05" fill="#1e1a18"/>
<text vector-effect="non-scaling-stroke" transform="matrix(0.8014 0 0 1 83.53 414.70)" font-family="Liberation Sans" font-size="22.97" fill="#1e1a18" stroke="#1e1a18" stroke-width="0.42">7</text>
<text vector-effect="non-scaling-stroke" transform="matrix(0.7781 0 0 1 93.88 414.70)" font-family="Liberation Sans" font-size="22.97" fill="#1e1a18" stroke="#1e1a18" stroke-width="0.42">0</text>
<text vector-effect="non-scaling-stroke" transform="matrix(0.6255 0 0 1 107.64 414.70)" font-family="Liberation Sans" font-size="22.97" fill="#1e1a18" stroke="#1e1a18" stroke-width="0.42">L</text>
<text vector-effect="non-scaling-stroke" transform="matrix(0.6589 0 0 1 115.67 414.70)" font-family="Liberation Sans" font-size="22.97" fill="#1e1a18" stroke="#1e1a18" stroke-width="0.42">B</text>
<text vector-effect="non-scaling-stroke" transform="matrix(0.6076 0 0 1 126.11 414.70)" font-family="Liberation Sans" font-size="22.97" fill="#1e1a18" stroke="#1e1a18" stroke-width="0.42">S</text>
<text vector-effect="non-scaling-stroke" transform="matrix(0.6419 0 0 1 54.28 460.30)" font-family="Liberation Sans" font-weight="normal" font-style="normal" font-size="22.53" letter-spacing="0.884" fill="#1e1a18" stroke="#1e1a18" stroke-width="0.55">GIANT</text>
<text vector-effect="non-scaling-stroke" transform="matrix(0.8014 0 0 1 54.08 486.10)" font-family="Liberation Sans" font-size="22.97" fill="#1e1a18" stroke="#1e1a18" stroke-width="0.42">7</text>
<path d="M65.19,472.67 L68.47,470.30 L70.24,470.30 L70.24,486.10 L68.27,486.10 L68.27,472.51 L65.19,474.41 Z" fill="#1e1a18"/>
<rect x="75.69" y="478.28" width="3.48" height="2.05" fill="#1e1a18"/>
<text vector-effect="non-scaling-stroke" transform="matrix(0.8330 0 0 1 83.70 486.10)" font-family="Liberation Sans" font-size="22.97" fill="#1e1a18" stroke="#1e1a18" stroke-width="0.42">9</text>
<text vector-effect="non-scaling-stroke" transform="matrix(0.7781 0 0 1 94.55 486.10)" font-family="Liberation Sans" font-size="22.97" fill="#1e1a18" stroke="#1e1a18" stroke-width="0.42">0</text>
<text vector-effect="non-scaling-stroke" transform="matrix(0.6255 0 0 1 108.45 486.10)" font-family="Liberation Sans" font-size="22.97" fill="#1e1a18" stroke="#1e1a18" stroke-width="0.42">L</text>
<text vector-effect="non-scaling-stroke" transform="matrix(0.6589 0 0 1 116.52 486.10)" font-family="Liberation Sans" font-size="22.97" fill="#1e1a18" stroke="#1e1a18" stroke-width="0.42">B</text>
<text vector-effect="non-scaling-stroke" transform="matrix(0.6076 0 0 1 127.01 486.10)" font-family="Liberation Sans" font-size="22.97" fill="#1e1a18" stroke="#1e1a18" stroke-width="0.42">S</text>
<text vector-effect="non-scaling-stroke" transform="matrix(0.5941 0 0 1 187.07 175.90)" font-family="Liberation Sans" font-weight="normal" font-style="normal" font-size="16.86" letter-spacing="1.808" fill="#1e1a18" stroke="#1e1a18" stroke-width="0.4">AVERAGE</text>
<text vector-effect="non-scaling-stroke" transform="matrix(0.6437 0 0 1 186.20 201.10)" font-family="Liberation Sans" font-weight="normal" font-style="normal" font-size="16.86" letter-spacing="1.374" fill="#1e1a18" stroke="#1e1a18" stroke-width="0.4">HIGHLY ACTIVE/PUPPIES</text>
<text vector-effect="non-scaling-stroke" transform="matrix(0.5941 0 0 1 187.07 246.55)" font-family="Liberation Sans" font-weight="normal" font-style="normal" font-size="16.86" letter-spacing="1.808" fill="#1e1a18" stroke="#1e1a18" stroke-width="0.4">AVERAGE</text>
<text vector-effect="non-scaling-stroke" transform="matrix(0.6437 0 0 1 186.20 271.65)" font-family="Liberation Sans" font-weight="normal" font-style="normal" font-size="16.86" letter-spacing="1.374" fill="#1e1a18" stroke="#1e1a18" stroke-width="0.4">HIGHLY ACTIVE/PUPPIES</text>
<text vector-effect="non-scaling-stroke" transform="matrix(0.5941 0 0 1 187.07 317.10)" font-family="Liberation Sans" font-weight="normal" font-style="normal" font-size="16.86" letter-spacing="1.808" fill="#1e1a18" stroke="#1e1a18" stroke-width="0.4">AVERAGE</text>
<text vector-effect="non-scaling-stroke" transform="matrix(0.6437 0 0 1 186.20 342.20)" font-family="Liberation Sans" font-weight="normal" font-style="normal" font-size="16.86" letter-spacing="1.374" fill="#1e1a18" stroke="#1e1a18" stroke-width="0.4">HIGHLY ACTIVE/PUPPIES</text>
<text vector-effect="non-scaling-stroke" transform="matrix(0.5941 0 0 1 187.07 387.60)" font-family="Liberation Sans" font-weight="normal" font-style="normal" font-size="16.86" letter-spacing="1.808" fill="#1e1a18" stroke="#1e1a18" stroke-width="0.4">AVERAGE</text>
<text vector-effect="non-scaling-stroke" transform="matrix(0.6437 0 0 1 186.20 412.70)" font-family="Liberation Sans" font-weight="normal" font-style="normal" font-size="16.86" letter-spacing="1.374" fill="#1e1a18" stroke="#1e1a18" stroke-width="0.4">HIGHLY ACTIVE/PUPPIES</text>
<text vector-effect="non-scaling-stroke" transform="matrix(0.5941 0 0 1 187.07 458.60)" font-family="Liberation Sans" font-weight="normal" font-style="normal" font-size="16.86" letter-spacing="1.808" fill="#1e1a18" stroke="#1e1a18" stroke-width="0.4">AVERAGE</text>
<text vector-effect="non-scaling-stroke" transform="matrix(0.6437 0 0 1 186.20 483.70)" font-family="Liberation Sans" font-weight="normal" font-style="normal" font-size="16.86" letter-spacing="1.374" fill="#1e1a18" stroke="#1e1a18" stroke-width="0.4">HIGHLY ACTIVE/PUPPIES</text>
<path d="M367.20,167.12 L369.92,165.30 L371.56,165.30 L371.56,177.40 L369.74,177.40 L369.74,166.99 L367.20,168.45 Z" fill="#1e1a18"/>
<path d="M372.45,178.61 L374.15,178.61 L377.78,165.06 L376.08,165.06 Z" fill="#1e1a18"/>
<text vector-effect="non-scaling-stroke" transform="matrix(0.8719 0 0 1 377.05 177.40)" font-family="Liberation Sans" font-size="17.59" fill="#1e1a18" stroke="#1e1a18" stroke-width="0.2">4</text>
<rect x="389.37" y="171.41" width="2.90" height="1.57" fill="#1e1a18"/>
<path d="M396.51,167.12 L399.23,165.30 L400.86,165.30 L400.86,177.40 L399.05,177.40 L399.05,166.99 L396.51,168.45 Z" fill="#1e1a18"/>
<path d="M401.76,178.61 L403.45,178.61 L407.08,165.06 L405.39,165.06 Z" fill="#1e1a18"/>
<text vector-effect="non-scaling-stroke" transform="matrix(0.9375 0 0 1 405.87 177.40)" font-family="Liberation Sans" font-size="17.59" fill="#1e1a18" stroke="#1e1a18" stroke-width="0.2">2</text>
<path d="M373.80,192.91 L376.52,191.10 L378.16,191.10 L378.16,203.20 L376.34,203.20 L376.34,192.79 L373.80,194.25 Z" fill="#1e1a18"/>
<path d="M379.09,204.41 L380.79,204.41 L384.42,190.86 L382.72,190.86 Z" fill="#1e1a18"/>
<text vector-effect="non-scaling-stroke" transform="matrix(0.9375 0 0 1 383.19 203.20)" font-family="Liberation Sans" font-size="17.59" fill="#1e1a18" stroke="#1e1a18" stroke-width="0.2">2</text>
<rect x="395.93" y="197.21" width="2.90" height="1.57" fill="#1e1a18"/>
<path d="M403.24,192.91 L405.97,191.10 L407.60,191.10 L407.60,203.20 L405.79,203.20 L405.79,192.79 L403.24,194.25 Z" fill="#1e1a18"/>
<path d="M459.00,167.12 L461.72,165.30 L463.36,165.30 L463.36,177.40 L461.54,177.40 L461.54,166.99 L459.00,168.45 Z" fill="#1e1a18"/>
<path d="M464.33,178.61 L466.02,178.61 L469.65,165.06 L467.96,165.06 Z" fill="#1e1a18"/>
<text vector-effect="non-scaling-stroke" transform="matrix(0.8111 0 0 1 468.70 177.40)" font-family="Liberation Sans" font-size="17.59" fill="#1e1a18" stroke="#1e1a18" stroke-width="0.2">3</text>
<rect x="480.60" y="171.41" width="2.90" height="1.57" fill="#1e1a18"/>
<text vector-effect="non-scaling-stroke" transform="matrix(0.8111 0 0 1 487.56 177.40)" font-family="Liberation Sans" font-size="17.59" fill="#1e1a18" stroke="#1e1a18" stroke-width="0.2">3</text>
<path d="M495.85,178.61 L497.54,178.61 L501.17,165.06 L499.48,165.06 Z" fill="#1e1a18"/>
<text vector-effect="non-scaling-stroke" transform="matrix(0.8719 0 0 1 500.41 177.40)" font-family="Liberation Sans" font-size="17.59" fill="#1e1a18" stroke="#1e1a18" stroke-width="0.2">4</text>
<text vector-effect="non-scaling-stroke" transform="matrix(0.8111 0 0 1 452.87 203.20)" font-family="Liberation Sans" font-size="17.59" fill="#1e1a18" stroke="#1e1a18" stroke-width="0.2">3</text>
<path d="M461.23,204.41 L462.92,204.41 L466.55,190.86 L464.86,190.86 Z" fill="#1e1a18"/>
<text vector-effect="non-scaling-stroke" transform="matrix(0.8719 0 0 1 465.76 203.20)" font-family="Liberation Sans" font-size="17.59" fill="#1e1a18" stroke="#1e1a18" stroke-width="0.2">4</text>
<rect x="478.80" y="197.21" width="2.90" height="1.57" fill="#1e1a18"/>
<path d="M486.65,192.91 L489.37,191.10 L491.01,191.10 L491.01,203.20 L489.19,203.20 L489.19,192.79 L486.65,194.25 Z" fill="#1e1a18"/>
<path d="M496.32,192.91 L499.04,191.10 L500.67,191.10 L500.67,203.20 L498.86,203.20 L498.86,192.79 L496.32,194.25 Z" fill="#1e1a18"/>
<path d="M501.72,204.41 L503.42,204.41 L507.05,190.86 L505.35,190.86 Z" fill="#1e1a18"/>
<text vector-effect="non-scaling-stroke" transform="matrix(0.9375 0 0 1 505.77 203.20)" font-family="Liberation Sans" font-size="17.59" fill="#1e1a18" stroke="#1e1a18" stroke-width="0.2">2</text>
<path d="M560.30,167.12 L563.02,165.30 L564.66,165.30 L564.66,177.40 L562.84,177.40 L562.84,166.99 L560.30,168.45 Z" fill="#1e1a18"/>
<text vector-effect="non-scaling-stroke" transform="matrix(0.8628 0 0 1 565.44 177.40)" font-family="Liberation Sans" font-size="17.59" fill="#1e1a18" stroke="#1e1a18" stroke-width="0.2">6</text>
<text vector-effect="non-scaling-stroke" transform="matrix(0.7781 0 0 1 574.21 177.40)" font-family="Liberation Sans" font-size="17.59" fill="#1e1a18" stroke="#1e1a18" stroke-width="0.2">0</text>
<rect x="585.91" y="171.41" width="2.90" height="1.57" fill="#1e1a18"/>
<text vector-effect="non-scaling-stroke" transform="matrix(0.8344 0 0 1 592.81 177.40)" font-family="Liberation Sans" font-size="17.59" fill="#1e1a18" stroke="#1e1a18" stroke-width="0.2">8</text>
<text vector-effect="non-scaling-stroke" transform="matrix(0.7781 0 0 1 601.32 177.40)" font-family="Liberation Sans" font-size="17.59" fill="#1e1a18" stroke="#1e1a18" stroke-width="0.2">0</text>
<text vector-effect="non-scaling-stroke" transform="matrix(0.8344 0 0 1 561.88 203.20)" font-family="Liberation Sans" font-size="17.59" fill="#1e1a18" stroke="#1e1a18" stroke-width="0.2">8</text>
<text vector-effect="non-scaling-stroke" transform="matrix(0.7781 0 0 1 570.41 203.20)" font-family="Liberation Sans" font-size="17.59" fill="#1e1a18" stroke="#1e1a18" stroke-width="0.2">0</text>
<rect x="582.17" y="197.21" width="2.90" height="1.57" fill="#1e1a18"/>
<text vector-effect="non-scaling-stroke" transform="matrix(0.8719 0 0 1 589.42 203.20)" font-family="Liberation Sans" font-size="17.59" fill="#1e1a18" stroke="#1e1a18" stroke-width="0.2">4</text>
<text vector-effect="non-scaling-stroke" transform="matrix(0.7781 0 0 1 598.52 203.20)" font-family="Liberation Sans" font-size="17.59" fill="#1e1a18" stroke="#1e1a18" stroke-width="0.2">0</text>
<path d="M373.30,237.22 L376.02,235.40 L377.66,235.40 L377.66,247.50 L375.84,247.50 L375.84,237.09 L373.30,238.55 Z" fill="#1e1a18"/>
<path d="M378.66,248.71 L380.36,248.71 L383.99,235.16 L382.29,235.16 Z" fill="#1e1a18"/>
<text vector-effect="non-scaling-stroke" transform="matrix(0.9375 0 0 1 382.73 247.50)" font-family="Liberation Sans" font-size="17.59" fill="#1e1a18" stroke="#1e1a18" stroke-width="0.2">2</text>
<rect x="395.80" y="241.51" width="2.90" height="1.57" fill="#1e1a18"/>
<path d="M403.44,237.22 L406.17,235.40 L407.80,235.40 L407.80,247.50 L405.99,247.50 L405.99,237.09 L403.44,238.55 Z" fill="#1e1a18"/>
<path d="M379.20,262.51 L381.92,260.70 L383.56,260.70 L383.56,272.80 L381.74,272.80 L381.74,262.39 L379.20,263.85 Z" fill="#1e1a18"/>
<rect x="387.68" y="266.81" width="2.90" height="1.57" fill="#1e1a18"/>
<text vector-effect="non-scaling-stroke" transform="matrix(0.9375 0 0 1 393.87 272.80)" font-family="Liberation Sans" font-size="17.59" fill="#1e1a18" stroke="#1e1a18" stroke-width="0.2">2</text>
<text vector-effect="non-scaling-stroke" transform="matrix(0.8111 0 0 1 452.87 247.50)" font-family="Liberation Sans" font-size="17.59" fill="#1e1a18" stroke="#1e1a18" stroke-width="0.2">3</text>
<path d="M461.25,248.71 L462.94,248.71 L466.57,235.16 L464.88,235.16 Z" fill="#1e1a18"/>
<text vector-effect="non-scaling-stroke" transform="matrix(0.8719 0 0 1 465.77 247.50)" font-family="Liberation Sans" font-size="17.59" fill="#1e1a18" stroke="#1e1a18" stroke-width="0.2">4</text>
<rect x="478.90" y="241.51" width="2.90" height="1.57" fill="#1e1a18"/>
<path d="M486.84,237.22 L489.57,235.40 L491.20,235.40 L491.20,247.50 L489.38,247.50 L489.38,237.09 L486.84,238.55 Z" fill="#1e1a18"/>
<path d="M496.61,237.22 L499.33,235.40 L500.96,235.40 L500.96,247.50 L499.15,247.50 L499.15,237.09 L496.61,238.55 Z" fill="#1e1a18"/>
<path d="M502.03,248.71 L503.73,248.71 L507.36,235.16 L505.66,235.16 Z" fill="#1e1a18"/>
<text vector-effect="non-scaling-stroke" transform="matrix(0.9375 0 0 1 506.07 247.50)" font-family="Liberation Sans" font-size="17.59" fill="#1e1a18" stroke="#1e1a18" stroke-width="0.2">2</text>
<path d="M460.00,262.51 L462.72,260.70 L464.36,260.70 L464.36,272.80 L462.54,272.80 L462.54,262.39 L460.00,263.85 Z" fill="#1e1a18"/>
<path d="M469.89,262.51 L472.61,260.70 L474.25,260.70 L474.25,272.80 L472.43,272.80 L472.43,262.39 L469.89,263.85 Z" fill="#1e1a18"/>
<path d="M475.34,274.01 L477.04,274.01 L480.67,260.46 L478.97,260.46 Z" fill="#1e1a18"/>
<text vector-effect="non-scaling-stroke" transform="matrix(0.9375 0 0 1 479.37 272.80)" font-family="Liberation Sans" font-size="17.59" fill="#1e1a18" stroke="#1e1a18" stroke-width="0.2">2</text>
<rect x="492.86" y="266.81" width="2.90" height="1.57" fill="#1e1a18"/>
<text vector-effect="non-scaling-stroke" transform="matrix(0.8111 0 0 1 500.39 272.80)" font-family="Liberation Sans" font-size="17.59" fill="#1e1a18" stroke="#1e1a18" stroke-width="0.2">3</text>
<text vector-effect="non-scaling-stroke" transform="matrix(0.8344 0 0 1 561.98 247.50)" font-family="Liberation Sans" font-size="17.59" fill="#1e1a18" stroke="#1e1a18" stroke-width="0.2">8</text>
<text vector-effect="non-scaling-stroke" transform="matrix(0.7781 0 0 1 570.49 247.50)" font-family="Liberation Sans" font-size="17.59" fill="#1e1a18" stroke="#1e1a18" stroke-width="0.2">0</text>
<rect x="582.17" y="241.51" width="2.90" height="1.57" fill="#1e1a18"/>
<text vector-effect="non-scaling-stroke" transform="matrix(0.8719 0 0 1 589.34 247.50)" font-family="Liberation Sans" font-size="17.59" fill="#1e1a18" stroke="#1e1a18" stroke-width="0.2">4</text>
<text vector-effect="non-scaling-stroke" transform="matrix(0.7781 0 0 1 598.42 247.50)" font-family="Liberation Sans" font-size="17.59" fill="#1e1a18" stroke="#1e1a18" stroke-width="0.2">0</text>
<text vector-effect="non-scaling-stroke" transform="matrix(0.8719 0 0 1 562.65 272.80)" font-family="Liberation Sans" font-size="17.59" fill="#1e1a18" stroke="#1e1a18" stroke-width="0.2">4</text>
<text vector-effect="non-scaling-stroke" transform="matrix(0.7781 0 0 1 571.61 272.80)" font-family="Liberation Sans" font-size="17.59" fill="#1e1a18" stroke="#1e1a18" stroke-width="0.2">0</text>
<rect x="582.92" y="266.81" width="2.90" height="1.57" fill="#1e1a18"/>
<text vector-effect="non-scaling-stroke" transform="matrix(0.9375 0 0 1 589.23 272.80)" font-family="Liberation Sans" font-size="17.59" fill="#1e1a18" stroke="#1e1a18" stroke-width="0.2">2</text>
<text vector-effect="non-scaling-stroke" transform="matrix(0.7781 0 0 1 598.42 272.80)" font-family="Liberation Sans" font-size="17.59" fill="#1e1a18" stroke="#1e1a18" stroke-width="0.2">0</text>
<path d="M379.20,308.31 L381.92,306.50 L383.56,306.50 L383.56,318.60 L381.74,318.60 L381.74,308.19 L379.20,309.65 Z" fill="#1e1a18"/>
<rect x="387.68" y="312.61" width="2.90" height="1.57" fill="#1e1a18"/>
<text vector-effect="non-scaling-stroke" transform="matrix(0.9375 0 0 1 393.87 318.60)" font-family="Liberation Sans" font-size="17.59" fill="#1e1a18" stroke="#1e1a18" stroke-width="0.2">2</text>
<text vector-effect="non-scaling-stroke" transform="matrix(0.9375 0 0 1 376.98 343.30)" font-family="Liberation Sans" font-size="17.59" fill="#1e1a18" stroke="#1e1a18" stroke-width="0.2">2</text>
<rect x="388.83" y="337.31" width="2.90" height="1.57" fill="#1e1a18"/>
<text vector-effect="non-scaling-stroke" transform="matrix(0.8719 0 0 1 394.91 343.30)" font-family="Liberation Sans" font-size="17.59" fill="#1e1a18" stroke="#1e1a18" stroke-width="0.2">4</text>
<path d="M460.00,308.31 L462.72,306.50 L464.36,306.50 L464.36,318.60 L462.54,318.60 L462.54,308.19 L460.00,309.65 Z" fill="#1e1a18"/>
<path d="M469.89,308.31 L472.61,306.50 L474.25,306.50 L474.25,318.60 L472.43,318.60 L472.43,308.19 L469.89,309.65 Z" fill="#1e1a18"/>
<path d="M475.34,319.81 L477.04,319.81 L480.67,306.26 L478.97,306.26 Z" fill="#1e1a18"/>
<text vector-effect="non-scaling-stroke" transform="matrix(0.9375 0 0 1 479.37 318.60)" font-family="Liberation Sans" font-size="17.59" fill="#1e1a18" stroke="#1e1a18" stroke-width="0.2">2</text>
<rect x="492.86" y="312.61" width="2.90" height="1.57" fill="#1e1a18"/>
<text vector-effect="non-scaling-stroke" transform="matrix(0.8111 0 0 1 500.39 318.60)" font-family="Liberation Sans" font-size="17.59" fill="#1e1a18" stroke="#1e1a18" stroke-width="0.2">3</text>
<text vector-effect="non-scaling-stroke" transform="matrix(0.8111 0 0 1 470.07 343.30)" font-family="Liberation Sans" font-size="17.59" fill="#1e1a18" stroke="#1e1a18" stroke-width="0.2">3</text>
<rect x="481.88" y="337.31" width="2.90" height="1.57" fill="#1e1a18"/>
<text vector-effect="non-scaling-stroke" transform="matrix(0.8628 0 0 1 488.52 343.30)" font-family="Liberation Sans" font-size="17.59" fill="#1e1a18" stroke="#1e1a18" stroke-width="0.2">6</text>
<text vector-effect="non-scaling-stroke" transform="matrix(0.8719 0 0 1 562.65 318.60)" font-family="Liberation Sans" font-size="17.59" fill="#1e1a18" stroke="#1e1a18" stroke-width="0.2">4</text>
<text vector-effect="non-scaling-stroke" transform="matrix(0.7781 0 0 1 571.61 318.60)" font-family="Liberation Sans" font-size="17.59" fill="#1e1a18" stroke="#1e1a18" stroke-width="0.2">0</text>
<rect x="582.92" y="312.61" width="2.90" height="1.57" fill="#1e1a18"/>
<text vector-effect="non-scaling-stroke" transform="matrix(0.9375 0 0 1 589.23 318.60)" font-family="Liberation Sans" font-size="17.59" fill="#1e1a18" stroke="#1e1a18" stroke-width="0.2">2</text>
<text vector-effect="non-scaling-stroke" transform="matrix(0.7781 0 0 1 598.42 318.60)" font-family="Liberation Sans" font-size="17.59" fill="#1e1a18" stroke="#1e1a18" stroke-width="0.2">0</text>
<text vector-effect="non-scaling-stroke" transform="matrix(0.9375 0 0 1 563.18 343.30)" font-family="Liberation Sans" font-size="17.59" fill="#1e1a18" stroke="#1e1a18" stroke-width="0.2">2</text>
<text vector-effect="non-scaling-stroke" transform="matrix(0.7781 0 0 1 572.50 343.30)" font-family="Liberation Sans" font-size="17.59" fill="#1e1a18" stroke="#1e1a18" stroke-width="0.2">0</text>
<rect x="584.22" y="337.31" width="2.90" height="1.57" fill="#1e1a18"/>
<path d="M591.76,333.01 L594.49,331.20 L596.12,331.20 L596.12,343.30 L594.30,343.30 L594.30,332.89 L591.76,334.35 Z" fill="#1e1a18"/>
<text vector-effect="non-scaling-stroke" transform="matrix(0.7781 0 0 1 597.12 343.30)" font-family="Liberation Sans" font-size="17.59" fill="#1e1a18" stroke="#1e1a18" stroke-width="0.2">0</text>
<text vector-effect="non-scaling-stroke" transform="matrix(0.9375 0 0 1 365.58 388.60)" font-family="Liberation Sans" font-size="17.59" fill="#1e1a18" stroke="#1e1a18" stroke-width="0.2">2</text>
<rect x="378.29" y="382.61" width="2.90" height="1.57" fill="#1e1a18"/>
<text vector-effect="non-scaling-stroke" transform="matrix(0.9375 0 0 1 384.75 388.60)" font-family="Liberation Sans" font-size="17.59" fill="#1e1a18" stroke="#1e1a18" stroke-width="0.2">2</text>
<path d="M397.79,378.31 L400.51,376.50 L402.14,376.50 L402.14,388.60 L400.33,388.60 L400.33,378.19 L397.79,379.65 Z" fill="#1e1a18"/>
<path d="M403.07,389.81 L404.77,389.81 L408.40,376.26 L406.70,376.26 Z" fill="#1e1a18"/>
<text vector-effect="non-scaling-stroke" transform="matrix(0.9375 0 0 1 407.17 388.60)" font-family="Liberation Sans" font-size="17.59" fill="#1e1a18" stroke="#1e1a18" stroke-width="0.2">2</text>
<text vector-effect="non-scaling-stroke" transform="matrix(0.8719 0 0 1 365.05 413.80)" font-family="Liberation Sans" font-size="17.59" fill="#1e1a18" stroke="#1e1a18" stroke-width="0.2">4</text>
<rect x="377.94" y="407.81" width="2.90" height="1.57" fill="#1e1a18"/>
<text vector-effect="non-scaling-stroke" transform="matrix(0.8719 0 0 1 385.30 413.80)" font-family="Liberation Sans" font-size="17.59" fill="#1e1a18" stroke="#1e1a18" stroke-width="0.2">4</text>
<path d="M398.54,403.51 L401.26,401.70 L402.89,401.70 L402.89,413.80 L401.08,413.80 L401.08,403.39 L398.54,404.85 Z" fill="#1e1a18"/>
<path d="M403.91,415.01 L405.60,415.01 L409.23,401.46 L407.54,401.46 Z" fill="#1e1a18"/>
<text vector-effect="non-scaling-stroke" transform="matrix(0.9375 0 0 1 407.97 413.80)" font-family="Liberation Sans" font-size="17.59" fill="#1e1a18" stroke="#1e1a18" stroke-width="0.2">2</text>
<text vector-effect="non-scaling-stroke" transform="matrix(0.8111 0 0 1 456.87 388.60)" font-family="Liberation Sans" font-size="17.59" fill="#1e1a18" stroke="#1e1a18" stroke-width="0.2">3</text>
<rect x="469.15" y="382.61" width="2.90" height="1.57" fill="#1e1a18"/>
<text vector-effect="non-scaling-stroke" transform="matrix(0.8111 0 0 1 476.50 388.60)" font-family="Liberation Sans" font-size="17.59" fill="#1e1a18" stroke="#1e1a18" stroke-width="0.2">3</text>
<text vector-effect="non-scaling-stroke" transform="matrix(0.8111 0 0 1 488.62 388.60)" font-family="Liberation Sans" font-size="17.59" fill="#1e1a18" stroke="#1e1a18" stroke-width="0.2">3</text>
<path d="M496.98,389.81 L498.68,389.81 L502.31,376.26 L500.61,376.26 Z" fill="#1e1a18"/>
<text vector-effect="non-scaling-stroke" transform="matrix(0.8719 0 0 1 501.51 388.60)" font-family="Liberation Sans" font-size="17.59" fill="#1e1a18" stroke="#1e1a18" stroke-width="0.2">4</text>
<text vector-effect="non-scaling-stroke" transform="matrix(0.8628 0 0 1 456.64 413.80)" font-family="Liberation Sans" font-size="17.59" fill="#1e1a18" stroke="#1e1a18" stroke-width="0.2">6</text>
<rect x="469.24" y="407.81" width="2.90" height="1.57" fill="#1e1a18"/>
<text vector-effect="non-scaling-stroke" transform="matrix(0.8628 0 0 1 476.22 413.80)" font-family="Liberation Sans" font-size="17.59" fill="#1e1a18" stroke="#1e1a18" stroke-width="0.2">6</text>
<text vector-effect="non-scaling-stroke" transform="matrix(0.8111 0 0 1 488.64 413.80)" font-family="Liberation Sans" font-size="17.59" fill="#1e1a18" stroke="#1e1a18" stroke-width="0.2">3</text>
<path d="M496.97,415.01 L498.66,415.01 L502.29,401.46 L500.60,401.46 Z" fill="#1e1a18"/>
<text vector-effect="non-scaling-stroke" transform="matrix(0.8719 0 0 1 501.51 413.80)" font-family="Liberation Sans" font-size="17.59" fill="#1e1a18" stroke="#1e1a18" stroke-width="0.2">4</text>
<text vector-effect="non-scaling-stroke" transform="matrix(0.9375 0 0 1 563.68 388.60)" font-family="Liberation Sans" font-size="17.59" fill="#1e1a18" stroke="#1e1a18" stroke-width="0.2">2</text>
<text vector-effect="non-scaling-stroke" transform="matrix(0.7781 0 0 1 572.88 388.60)" font-family="Liberation Sans" font-size="17.59" fill="#1e1a18" stroke="#1e1a18" stroke-width="0.2">0</text>
<rect x="584.23" y="382.61" width="2.90" height="1.57" fill="#1e1a18"/>
<path d="M591.40,378.31 L594.13,376.50 L595.76,376.50 L595.76,388.60 L593.94,388.60 L593.94,378.19 L591.40,379.65 Z" fill="#1e1a18"/>
<text vector-effect="non-scaling-stroke" transform="matrix(0.8628 0 0 1 596.42 388.60)" font-family="Liberation Sans" font-size="17.59" fill="#1e1a18" stroke="#1e1a18" stroke-width="0.2">6</text>
<path d="M567.80,403.51 L570.52,401.70 L572.16,401.70 L572.16,413.80 L570.34,413.80 L570.34,403.39 L567.80,404.85 Z" fill="#1e1a18"/>
<text vector-effect="non-scaling-stroke" transform="matrix(0.7781 0 0 1 573.30 413.80)" font-family="Liberation Sans" font-size="17.59" fill="#1e1a18" stroke="#1e1a18" stroke-width="0.2">0</text>
<rect x="585.44" y="407.81" width="2.90" height="1.57" fill="#1e1a18"/>
<text vector-effect="non-scaling-stroke" transform="matrix(0.8479 0 0 1 592.69 413.80)" font-family="Liberation Sans" font-size="17.59" fill="#1e1a18" stroke="#1e1a18" stroke-width="0.2">9</text>
<text vector-effect="non-scaling-stroke" transform="matrix(0.9375 0 0 1 365.98 459.60)" font-family="Liberation Sans" font-size="17.59" fill="#1e1a18" stroke="#1e1a18" stroke-width="0.2">2</text>
<path d="M379.12,449.31 L381.84,447.50 L383.47,447.50 L383.47,459.60 L381.66,459.60 L381.66,449.19 L379.12,450.65 Z" fill="#1e1a18"/>
<path d="M384.43,460.81 L386.12,460.81 L389.75,447.26 L388.06,447.26 Z" fill="#1e1a18"/>
<text vector-effect="non-scaling-stroke" transform="matrix(0.9375 0 0 1 388.52 459.60)" font-family="Liberation Sans" font-size="17.59" fill="#1e1a18" stroke="#1e1a18" stroke-width="0.2">2</text>
<rect x="401.33" y="453.61" width="2.90" height="1.57" fill="#1e1a18"/>
<text vector-effect="non-scaling-stroke" transform="matrix(0.8111 0 0 1 408.19 459.60)" font-family="Liberation Sans" font-size="17.59" fill="#1e1a18" stroke="#1e1a18" stroke-width="0.2">3</text>
<text vector-effect="non-scaling-stroke" transform="matrix(0.8719 0 0 1 352.45 484.80)" font-family="Liberation Sans" font-size="17.59" fill="#1e1a18" stroke="#1e1a18" stroke-width="0.2">4</text>
<path d="M366.55,474.51 L369.27,472.70 L370.90,472.70 L370.90,484.80 L369.09,484.80 L369.09,474.39 L366.55,475.85 Z" fill="#1e1a18"/>
<path d="M372.09,486.01 L373.78,486.01 L377.41,472.46 L375.72,472.46 Z" fill="#1e1a18"/>
<text vector-effect="non-scaling-stroke" transform="matrix(0.9375 0 0 1 376.08 484.80)" font-family="Liberation Sans" font-size="17.59" fill="#1e1a18" stroke="#1e1a18" stroke-width="0.2">2</text>
<rect x="390.00" y="478.81" width="2.90" height="1.57" fill="#1e1a18"/>
<text vector-effect="non-scaling-stroke" transform="matrix(0.7821 0 0 1 397.95 484.80)" font-family="Liberation Sans" font-size="17.59" fill="#1e1a18" stroke="#1e1a18" stroke-width="0.2">5</text>
<path d="M411.04,474.51 L413.76,472.70 L415.40,472.70 L415.40,484.80 L413.58,484.80 L413.58,474.39 L411.04,475.85 Z" fill="#1e1a18"/>
<path d="M416.58,486.01 L418.28,486.01 L421.91,472.46 L420.21,472.46 Z" fill="#1e1a18"/>
<text vector-effect="non-scaling-stroke" transform="matrix(0.9375 0 0 1 420.57 484.80)" font-family="Liberation Sans" font-size="17.59" fill="#1e1a18" stroke="#1e1a18" stroke-width="0.2">2</text>
<text vector-effect="non-scaling-stroke" transform="matrix(0.8111 0 0 1 444.67 459.60)" font-family="Liberation Sans" font-size="17.59" fill="#1e1a18" stroke="#1e1a18" stroke-width="0.2">3</text>
<text vector-effect="non-scaling-stroke" transform="matrix(0.8111 0 0 1 457.08 459.60)" font-family="Liberation Sans" font-size="17.59" fill="#1e1a18" stroke="#1e1a18" stroke-width="0.2">3</text>
<path d="M465.50,460.81 L467.20,460.81 L470.83,447.26 L469.13,447.26 Z" fill="#1e1a18"/>
<text vector-effect="non-scaling-stroke" transform="matrix(0.8719 0 0 1 470.00 459.60)" font-family="Liberation Sans" font-size="17.59" fill="#1e1a18" stroke="#1e1a18" stroke-width="0.2">4</text>
<rect x="483.35" y="453.61" width="2.90" height="1.57" fill="#1e1a18"/>
<text vector-effect="non-scaling-stroke" transform="matrix(0.8719 0 0 1 491.16 459.60)" font-family="Liberation Sans" font-size="17.59" fill="#1e1a18" stroke="#1e1a18" stroke-width="0.2">4</text>
<path d="M504.88,449.31 L507.60,447.50 L509.24,447.50 L509.24,459.60 L507.42,459.60 L507.42,449.19 L504.88,450.65 Z" fill="#1e1a18"/>
<path d="M510.35,460.81 L512.05,460.81 L515.68,447.26 L513.98,447.26 Z" fill="#1e1a18"/>
<text vector-effect="non-scaling-stroke" transform="matrix(0.9375 0 0 1 514.37 459.60)" font-family="Liberation Sans" font-size="17.59" fill="#1e1a18" stroke="#1e1a18" stroke-width="0.2">2</text>
<text vector-effect="non-scaling-stroke" transform="matrix(0.8628 0 0 1 444.44 484.80)" font-family="Liberation Sans" font-size="17.59" fill="#1e1a18" stroke="#1e1a18" stroke-width="0.2">6</text>
<text vector-effect="non-scaling-stroke" transform="matrix(0.8111 0 0 1 457.19 484.80)" font-family="Liberation Sans" font-size="17.59" fill="#1e1a18" stroke="#1e1a18" stroke-width="0.2">3</text>
<path d="M465.59,486.01 L467.28,486.01 L470.91,472.46 L469.22,472.46 Z" fill="#1e1a18"/>
<text vector-effect="non-scaling-stroke" transform="matrix(0.8719 0 0 1 470.10 484.80)" font-family="Liberation Sans" font-size="17.59" fill="#1e1a18" stroke="#1e1a18" stroke-width="0.2">4</text>
<rect x="483.32" y="478.81" width="2.90" height="1.57" fill="#1e1a18"/>
<text vector-effect="non-scaling-stroke" transform="matrix(0.8344 0 0 1 490.73 484.80)" font-family="Liberation Sans" font-size="17.59" fill="#1e1a18" stroke="#1e1a18" stroke-width="0.2">8</text>
<path d="M503.75,474.51 L506.48,472.70 L508.11,472.70 L508.11,484.80 L506.30,484.80 L506.30,474.39 L503.75,475.85 Z" fill="#1e1a18"/>
<path d="M509.20,486.01 L510.89,486.01 L514.52,472.46 L512.83,472.46 Z" fill="#1e1a18"/>
<text vector-effect="non-scaling-stroke" transform="matrix(0.8719 0 0 1 513.71 484.80)" font-family="Liberation Sans" font-size="17.59" fill="#1e1a18" stroke="#1e1a18" stroke-width="0.2">4</text>
<path d="M565.90,449.31 L568.62,447.50 L570.26,447.50 L570.26,459.60 L568.44,459.60 L568.44,449.19 L565.90,450.65 Z" fill="#1e1a18"/>
<text vector-effect="non-scaling-stroke" transform="matrix(0.8628 0 0 1 570.87 459.60)" font-family="Liberation Sans" font-size="17.59" fill="#1e1a18" stroke="#1e1a18" stroke-width="0.2">6</text>
<rect x="582.77" y="453.61" width="2.90" height="1.57" fill="#1e1a18"/>
<path d="M589.79,449.31 L592.52,447.50 L594.15,447.50 L594.15,459.60 L592.34,459.60 L592.34,449.19 L589.79,450.65 Z" fill="#1e1a18"/>
<text vector-effect="non-scaling-stroke" transform="matrix(0.8111 0 0 1 594.99 459.60)" font-family="Liberation Sans" font-size="17.59" fill="#1e1a18" stroke="#1e1a18" stroke-width="0.2">3</text>
<text vector-effect="non-scaling-stroke" transform="matrix(0.8479 0 0 1 570.89 484.80)" font-family="Liberation Sans" font-size="17.59" fill="#1e1a18" stroke="#1e1a18" stroke-width="0.2">9</text>
<rect x="583.14" y="478.81" width="2.90" height="1.57" fill="#1e1a18"/>
<text vector-effect="non-scaling-stroke" transform="matrix(0.8014 0 0 1 589.98 484.80)" font-family="Liberation Sans" font-size="17.59" fill="#1e1a18" stroke="#1e1a18" stroke-width="0.2">7</text>
<text vector-effect="non-scaling-stroke" transform="matrix(1.0967 0 0 1 44.66 522.10)" font-family="Liberation Sans" font-weight="normal" font-style="normal" font-size="12.40" fill="#46433f" >*We suggest dividing daily amount into two servings. Your individual dog’s needs will vary</text>
<text vector-effect="non-scaling-stroke" transform="matrix(1.0967 0 0 1 51.53 537.30)" font-family="Liberation Sans" font-weight="normal" font-style="normal" font-size="12.40" fill="#46433f" >with age and activity.</text>
<text vector-effect="non-scaling-stroke" transform="matrix(0.5984 0 0 1 57.71 605.95)" font-family="Liberation Sans" font-weight="normal" font-size="25.44" fill="#1e1a18" stroke="#1e1a18" stroke-width="0.90">T</text>
<text vector-effect="non-scaling-stroke" transform="matrix(0.8075 0 0 1 68.45 605.95)" font-family="Liberation Sans" font-weight="normal" font-size="25.44" fill="#1e1a18" stroke="#1e1a18" stroke-width="0.90">I</text>
<text vector-effect="non-scaling-stroke" transform="matrix(0.6645 0 0 1 74.56 605.95)" font-family="Liberation Sans" font-weight="normal" font-size="25.44" fill="#1e1a18" stroke="#1e1a18" stroke-width="0.90">P</text>
<text vector-effect="non-scaling-stroke" transform="matrix(0.5923 0 0 1 87.57 605.95)" font-family="Liberation Sans" font-weight="normal" font-size="25.44" fill="#1e1a18" stroke="#1e1a18" stroke-width="0.90">S</text>
<text vector-effect="non-scaling-stroke" transform="matrix(1.0887 0 0 1 98.46 605.95)" font-family="Liberation Sans" font-weight="normal" font-size="25.44" fill="#1e1a18" stroke="#1e1a18" stroke-width="0.90">:</text>
<text vector-effect="non-scaling-stroke" transform="matrix(1.0724 0 0 1 131.03 602.40)" font-family="Liberation Sans" font-weight="normal" font-style="normal" font-size="13.40" fill="#3b3835" >more or less water to</text>
<text vector-effect="non-scaling-stroke" transform="matrix(1.0724 0 0 1 134.51 585.70)" font-family="Liberation Sans" font-weight="normal" font-style="normal" font-size="13.40" fill="#3b3835" >You can add slightly</text>
<text vector-effect="non-scaling-stroke" transform="matrix(1.0724 0 0 1 147.54 618.90)" font-family="Liberation Sans" font-weight="normal" font-style="normal" font-size="13.40" fill="#3b3835" >your pet’s liking.</text>
<text vector-effect="non-scaling-stroke" transform="matrix(1.0724 0 0 1 312.42 593.00)" font-family="Liberation Sans" font-weight="normal" font-style="normal" font-size="13.40" fill="#3b3835" >Prepared food may be</text>
<text vector-effect="non-scaling-stroke" transform="matrix(1.0724 0 0 1 305.30 609.50)" font-family="Liberation Sans" font-weight="normal" font-style="normal" font-size="13.40" fill="#3b3835" >refrigerated for 2-3 days.</text>
<text vector-effect="non-scaling-stroke" transform="matrix(1.0724 0 0 1 503.51 592.60)" font-family="Liberation Sans" font-weight="normal" font-style="normal" font-size="13.40" fill="#3b3835" >Store this box in</text>
<text vector-effect="non-scaling-stroke" transform="matrix(1.0724 0 0 1 499.92 609.30)" font-family="Liberation Sans" font-weight="normal" font-style="normal" font-size="13.40" fill="#3b3835" >a cool, dry place.</text>
</svg>
</body></html>
